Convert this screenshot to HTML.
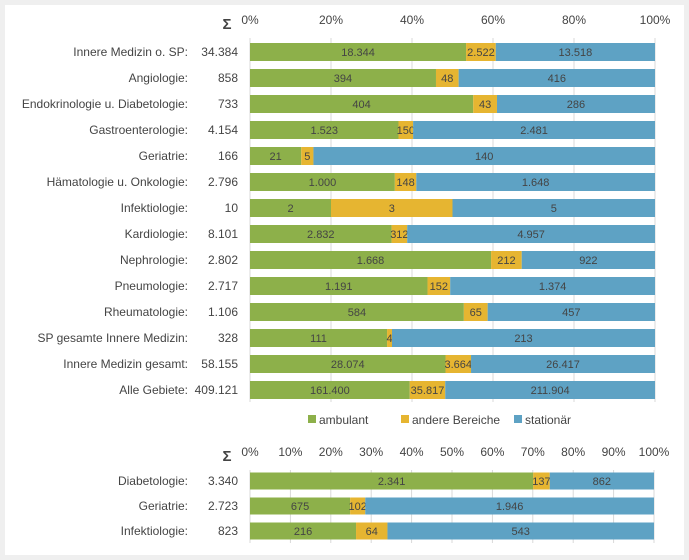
<!DOCTYPE html>
<html><head><meta charset="utf-8"><style>
body{margin:0;background:#efefef;width:689px;height:560px;overflow:hidden;font-family:"Liberation Sans",sans-serif}
#panel{position:absolute;left:5px;top:5px;width:679px;height:550px;background:#fff}
svg{position:absolute;left:0;top:0}
text{font-family:"Liberation Sans",sans-serif;fill:#444}
</style></head><body>
<div id="panel"></div>
<svg id="c" width="689" height="560"></svg>
<script>
const topCats=["Innere Medizin o. SP:","Angiologie:","Endokrinologie u. Diabetologie:","Gastroenterologie:","Geriatrie:","Hämatologie u. Onkologie:","Infektiologie:","Kardiologie:","Nephrologie:","Pneumologie:","Rheumatologie:","SP gesamte Innere Medizin:","Innere Medizin gesamt:","Alle Gebiete:"];
const topAmb=[18344,394,404,1523,21,1000,2,2832,1668,1191,584,111,28074,161400];
const topAnd=[2522,48,43,150,5,148,3,312,212,152,65,4,3664,35817];
const topSta=[13518,416,286,2481,140,1648,5,4957,922,1374,457,213,26417,211904];
const botCats=["Diabetologie:","Geriatrie:","Infektiologie:"];
const botAmb=[2341,675,216];
const botAnd=[137,102,64];
const botSta=[862,1946,543];
const topTicks=["0%","20%","40%","60%","80%","100%"];
const botTicks=["0%","10%","20%","30%","40%","50%","60%","70%","80%","90%","100%"];
const colors=["#8db04a","#e6b531","#5ea2c4"];
const svg=document.getElementById('c');
const NS="http://www.w3.org/2000/svg";
function mk(t,a,txt){const e=document.createElementNS(NS,t);for(const k in a)e.setAttribute(k,a[k]);if(txt!==undefined)e.textContent=txt;svg.appendChild(e);return e;}
function fmt(n){return n.toString().replace(/\B(?=(\d{3})+(?!\d))/g,".");}
function chart(cats,series,ticks,x0,x1,tickY,yTop,gridTop,gridBot,pitch,bh,pre){
  const sx=f=>x0+f*(x1-x0);
  ticks.forEach((t,i)=>{const x=sx(i/(ticks.length-1));
    const g=mk('line',{x1:x,x2:x,y1:gridTop,y2:gridBot,stroke:'#d9d9d9','stroke-width':1});
    
    const l=mk('text',{x:x,y:tickY,'text-anchor':'middle','font-size':12},t);
    });
  const s=mk('text',{x:227,y:tickY+5,'text-anchor':'middle','font-size':15,'font-weight':'bold'},'Σ');
  
  cats.forEach((c,i)=>{const yc=yTop+i*pitch;const vals=series.map(a=>a[i]);const tot=vals.reduce((a,b)=>a+b,0);
    const l=mk('text',{x:188,y:yc+4,'text-anchor':'end','font-size':12},c);
    
    const t=mk('text',{x:238,y:yc+4,'text-anchor':'end','font-size':12},fmt(tot));
    
    let acc=0;vals.forEach((v,j)=>{const xa=sx(acc/tot),xb=sx((acc+v)/tot);acc+=v;
      const r=mk('rect',{x:xa,y:yc-bh/2,width:xb-xa,height:bh,fill:colors[j]});
      
      const tl=mk('text',{x:(xa+xb)/2,y:yc+4,'text-anchor':'middle','font-size':11,fill:'#555'},fmt(v));
      });
  });
}
chart(topCats,[topAmb,topAnd,topSta],topTicks,250,655,24,52,38,402,26,18,'top-');
chart(botCats,[botAmb,botAnd,botSta],botTicks,250,654,456,481,470,543,25,17,'bottom-');
const leg=[["ambulant",311],["andere Bereiche",404],["stationär",517]];
leg.forEach((l,i)=>{const r=mk('rect',{x:l[1]-3,y:415,width:8,height:8,fill:colors[i]});
  
  const t=mk('text',{x:l[1]+8,y:424,'font-size':12},l[0]);
  });
</script>
</body></html>
